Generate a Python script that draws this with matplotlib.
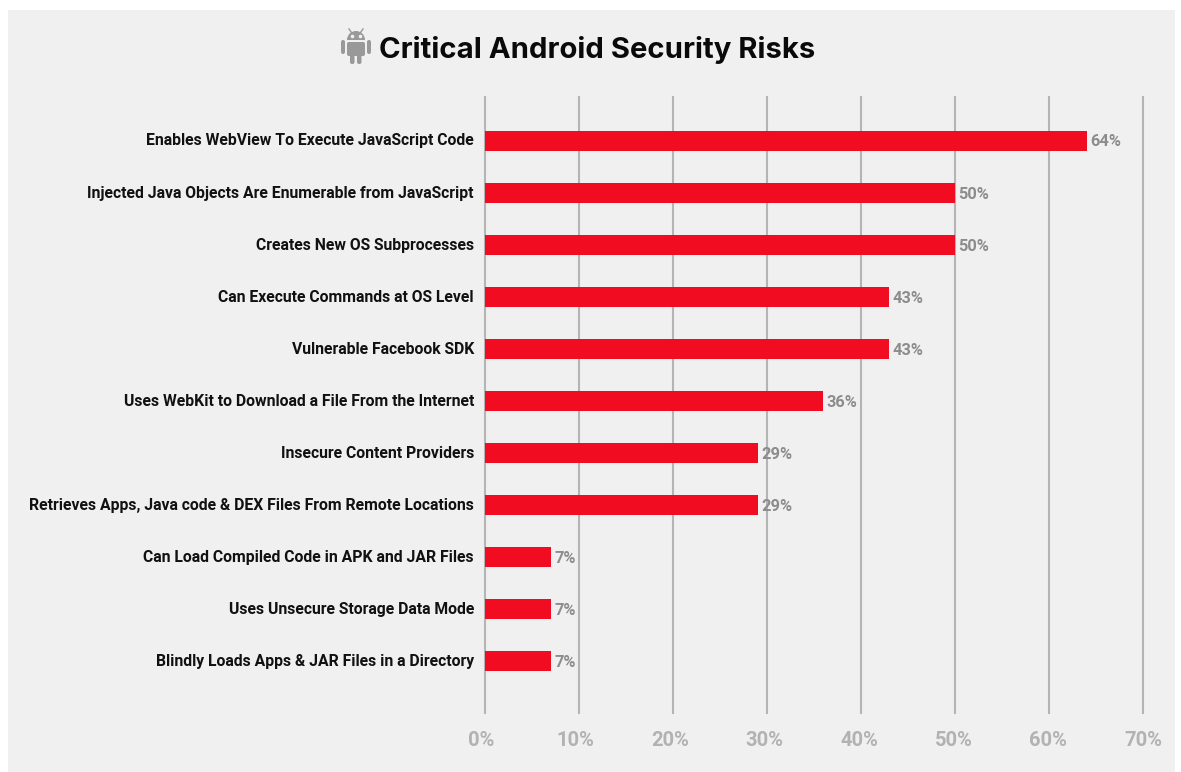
import matplotlib
matplotlib.use("Agg")
import matplotlib.pyplot as plt
from matplotlib.patches import Rectangle, FancyBboxPatch, Wedge
from matplotlib.transforms import ScaledTranslation

# --- chart data ---
risks = [
    "Enables WebView To Execute JavaScript Code",
    "Injected Java Objects Are Enumerable from JavaScript",
    "Creates New OS Subprocesses",
    "Can Execute Commands at OS Level",
    "Vulnerable Facebook SDK",
    "Uses WebKit to Download a File From the Internet",
    "Insecure Content Providers",
    "Retrieves Apps, Java code & DEX Files From Remote Locations",
    "Can Load Compiled Code in APK and JAR Files",
    "Uses Unsecure Storage Data Mode",
    "Blindly Loads Apps & JAR Files in a Directory",
]
percent = [64, 50, 50, 43, 43, 36, 29, 29, 7, 7, 7]
x_ticks = [0, 10, 20, 30, 40, 50, 60, 70]

TITLE = "Critical Android Security Risks"
PANEL = "#f0f0f0"
RED = "#f20c22"
W, H = 1181, 772

fig = plt.figure(figsize=(W / 100, H / 100), dpi=100, facecolor="white")

# overlay in pixel units, for the grey panel and the title icon
bg = fig.add_axes([0, 0, 1, 1], zorder=0)
bg.set_xlim(0, W)
bg.set_ylim(H, 0)
bg.axis("off")
bg.add_patch(Rectangle((8, 10), 1167, 762, fc=PANEL, ec="none"))

ICON = "#999999"
# head, body, arms, legs of the android
bg.add_patch(Wedge((356, 40), 9, 180, 360, fc=ICON, ec="none"))
bg.add_patch(FancyBboxPatch((347, 42), 18, 14, boxstyle="round,pad=0,rounding_size=2", fc=ICON, ec="none"))
for ax_x in (341, 367):
    bg.add_patch(FancyBboxPatch((ax_x, 40), 4, 14, boxstyle="round,pad=0,rounding_size=2", fc=ICON, ec="none"))
for leg_x in (350, 357):
    bg.add_patch(FancyBboxPatch((leg_x, 54), 4.5, 10, boxstyle="round,pad=0,rounding_size=2", fc=ICON, ec="none"))
bg.plot([349, 351.5], [29, 32.5], color=ICON, lw=1)
bg.plot([363, 360.5], [29, 32.5], color=ICON, lw=1)
bg.plot([352, 360], [35.5, 35.5], ls="none", marker="o", ms=1.6, color=PANEL)

bg.text(379, 49.5, TITLE, fontsize=21.1, fontweight="bold", family="Inter",
        color="#0a0a0a", ha="left", va="center")

# --- bars ---
ax = fig.add_axes([485 / W, 1 - 713 / H, (1143 - 485) / W, (713 - 97) / H], zorder=1)
ax.patch.set_alpha(0)
y = list(range(len(risks)))
ax.barh(y, percent, height=0.384, color=RED, zorder=3)
ax.set_xlim(0, 70)
ax.set_ylim(10.99, -0.845)

ax.set_xticks(x_ticks)
ax.set_xticklabels([f"{t}%" for t in x_ticks], fontsize=14.5, fontweight="bold",
                   family="Roboto", color="#b2b2b2")
ax.set_yticks(y)
ax.set_yticklabels(risks, fontsize=11.3, fontweight="bold", family="Roboto", color="#111111")
ax.tick_params(axis="both", length=0)
ax.tick_params(axis="x", pad=13)
ax.tick_params(axis="y", pad=8)
ax.xaxis.grid(True, color="#b4b4b4", lw=1.5, zorder=1)
ax.yaxis.grid(False)
for gl in ax.get_xgridlines():
    gl.set_clip_on(False)
for side in ax.spines:
    ax.spines[side].set_visible(False)

# nudge the tick labels a little off their anchors
px = fig.dpi_scale_trans
for t, lab in zip(x_ticks, ax.get_xticklabels()):
    lab.set_transform(lab.get_transform() + ScaledTranslation(-0.04 + 0.04 * t / 70, 0, px))
for lab in ax.get_yticklabels():
    lab.set_transform(lab.get_transform() + ScaledTranslation(0, 0.015, px))

for i, v in enumerate(percent):
    ax.annotate(f"{v}%", (v, i), xytext=(2.5, -0.7), textcoords="offset points",
                va="center", ha="left", fontsize=11.8, fontweight="bold",
                family="Roboto", color="#8c8c8c", zorder=4)

fig.savefig("out.png", dpi=100)
